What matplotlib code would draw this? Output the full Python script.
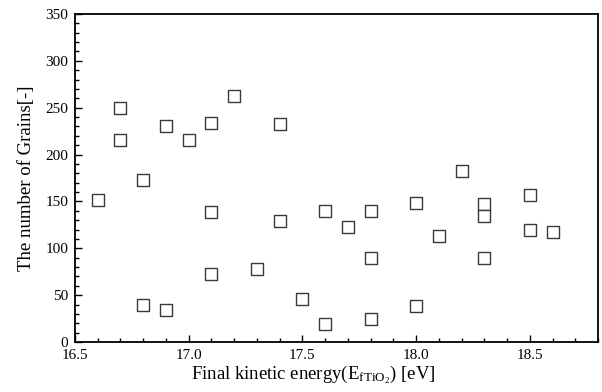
import matplotlib
matplotlib.use("Agg")
import matplotlib.pyplot as plt
from matplotlib.ticker import MultipleLocator

energy = [16.6, 16.7, 16.7, 16.8, 16.8, 16.9, 16.9, 17.0, 17.1, 17.1, 17.1, 17.2,
          17.3, 17.4, 17.4, 17.5, 17.6, 17.6, 17.7, 17.8, 17.8, 17.8, 18.0, 18.0,
          18.1, 18.2, 18.3, 18.3, 18.3, 18.5, 18.5, 18.6]
grains = [151, 250, 216, 173, 40, 231, 34, 216, 234, 139, 73, 262,
          78, 233, 129, 46, 140, 19, 123, 140, 90, 25, 148, 38,
          113, 183, 147, 134, 90, 157, 119, 117]

plt.rcParams['font.family'] = ['Liberation Serif', 'DejaVu Serif']
plt.rcParams['mathtext.fontset'] = 'custom'
plt.rcParams['mathtext.rm'] = 'Liberation Serif'
plt.rcParams['mathtext.it'] = 'Liberation Serif'

fig = plt.figure(figsize=(6.02, 3.92), dpi=100)
ax = fig.add_axes([75/602, 50/392, 523/602, 328/392])
ax.scatter(energy, grains, marker='s', s=70, facecolors='white',
           edgecolors='#3a3a3a', linewidths=1.0, zorder=3)

ax.set_xlim(16.5, 18.8)
ax.set_ylim(0, 350)
ax.xaxis.set_major_locator(MultipleLocator(0.5))
ax.xaxis.set_minor_locator(MultipleLocator(0.1))
ax.yaxis.set_major_locator(MultipleLocator(50))
ax.yaxis.set_minor_locator(MultipleLocator(10))
ax.xaxis.set_major_formatter(matplotlib.ticker.FormatStrFormatter('%.1f'))
ax.tick_params(which='both', direction='in', top=False, right=False, labelsize=11)
ax.tick_params(which='major', length=5, width=1)
ax.tick_params(which='minor', length=3, width=1)
ax.tick_params(axis='x', which='major', pad=5)
ax.tick_params(axis='y', which='major', pad=5)
for s in ax.spines.values():
    s.set_linewidth(1.3)

ax.set_xlabel(r'Final kinetic energy(E$_{\mathrm{fTiO_2}}$) [eV]', fontsize=13.5)
ax.xaxis.set_label_coords(0.455, -0.066)
ax.set_ylabel('The number of Grains[-]', fontsize=13.5, labelpad=7)

fig.savefig('out.png', dpi=100)
